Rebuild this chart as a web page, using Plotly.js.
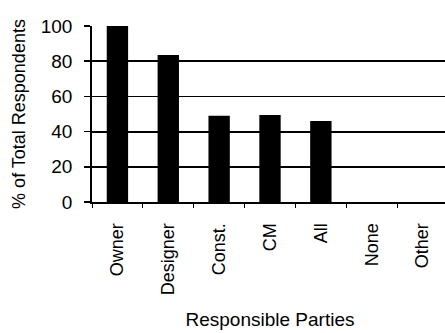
<!DOCTYPE html>
<html>
<head>
<meta charset="utf-8">
<script src="https://cdn.plot.ly/plotly-3.0.1.min.js"></script>
<style>
html,body{margin:0;padding:0;overflow:hidden;background:#fff;}
#chart{width:452px;height:333px;}
</style>
</head>
<body>
<div id="chart"></div>
<script>
var categories = ["Owner", "Designer", "Const.", "CM", "All", "None", "Other"];
var percentValues = [100, 83.5, 49, 49.5, 46, 0, 0];
var yTickValues = [0, 20, 40, 60, 80, 100];

var fontFamily = "Arial, 'Liberation Sans', sans-serif";

var trace = {
  type: "bar",
  x: categories,
  y: percentValues,
  width: 0.42,
  marker: {color: "#000000", line: {width: 0}},
  hoverinfo: "x+y"
};

var layout = {
  width: 452,
  height: 333,
  margin: {l: 92, r: 4, t: 26, b: 131},
  paper_bgcolor: "#ffffff",
  plot_bgcolor: "#ffffff",
  showlegend: false,
  font: {family: fontFamily, color: "#000000", size: 18},
  xaxis: {
    type: "category",
    tickson: "boundaries",
    ticks: "outside",
    ticklen: 4,
    tickwidth: 1,
    tickcolor: "#000",
    tickangle: -90,
    ticklabelstandoff: 12,
    tickfont: {size: 18, family: fontFamily, color: "#000"},
    showgrid: false,
    showline: true,
    linecolor: "#000",
    linewidth: 2,
    zeroline: false,
    title: {text: "Responsible Parties", font: {size: 19, family: fontFamily, color: "#000"}, standoff: 18}
  },
  yaxis: {
    range: [0, 100],
    tickvals: yTickValues,
    ticktext: yTickValues.map(String),
    ticks: "outside",
    ticklen: 6,
    tickwidth: 1.5,
    tickcolor: "#000",
    ticklabelstandoff: 8,
    tickfont: {size: 19, family: fontFamily, color: "#000"},
    showgrid: true,
    gridcolor: "#000",
    gridwidth: 1.8,
    showline: true,
    linecolor: "#000",
    linewidth: 1.8,
    zeroline: false,
    title: {text: "% of Total Respondents", font: {size: 18, family: fontFamily, color: "#000"}, standoff: 10}
  },
  bargap: 0.58
};

Plotly.newPlot("chart", [trace], layout, {displayModeBar: false, staticPlot: true});
</script>
</body>
</html>
